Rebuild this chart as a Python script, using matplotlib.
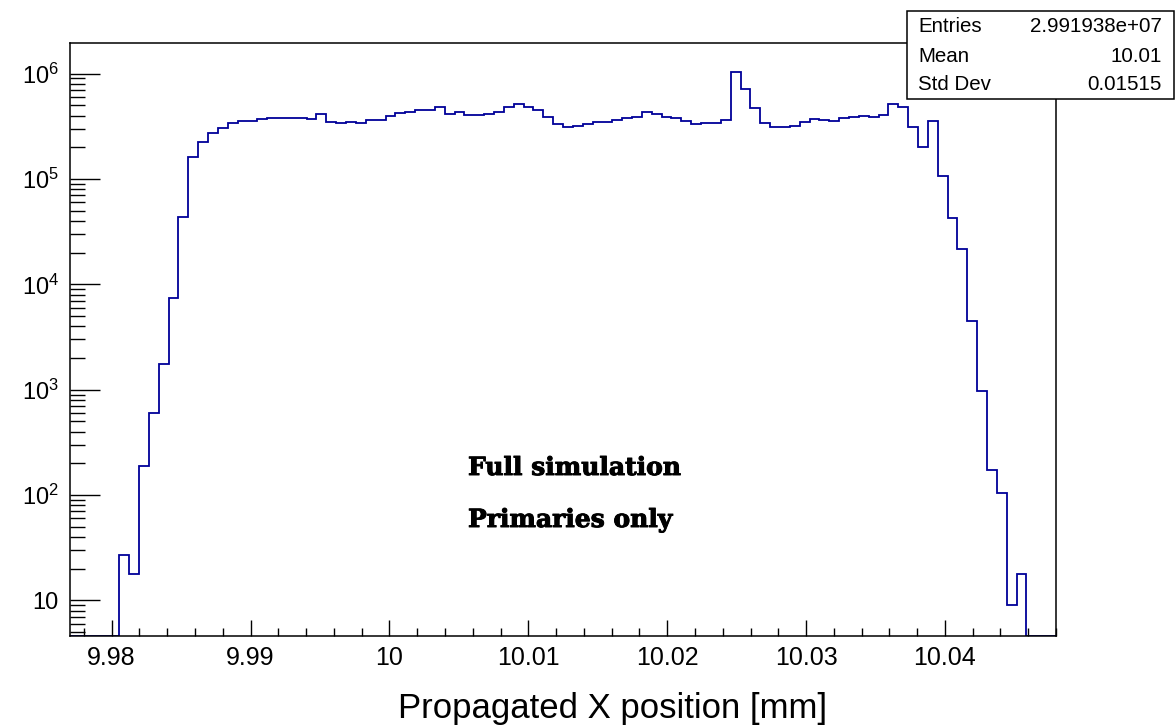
import numpy as np
import matplotlib
matplotlib.use("Agg")
import matplotlib.pyplot as plt
import matplotlib.patheffects as pe
from matplotlib.ticker import FixedLocator, LogLocator, NullFormatter

plt.rcParams['font.family'] = ['Liberation Sans', 'DejaVu Sans']
plt.rcParams['mathtext.fontset'] = 'custom'
plt.rcParams['mathtext.rm'] = 'Liberation Sans'
plt.rcParams['mathtext.it'] = 'Liberation Sans'

# histogram: 100 bins, counts
x_low, x_high, n_bins = 9.977, 10.048, 100
counts = [
    0, 0, 0, 0, 0, 27, 18, 188, 604, 1740,
    7370, 43900, 1.62e5, 2.23e5, 2.72e5, 3.07e5, 3.42e5, 3.55e5, 3.57e5, 3.71e5,
    3.82e5, 3.82e5, 3.82e5, 3.82e5, 3.71e5, 4.14e5, 3.50e5, 3.42e5, 3.50e5, 3.42e5,
    3.61e5, 3.66e5, 3.94e5, 4.21e5, 4.30e5, 4.52e5, 4.55e5, 4.83e5, 4.14e5, 4.32e5,
    4.03e5, 4.05e5, 4.17e5, 4.30e5, 4.86e5, 5.12e5, 4.86e5, 4.52e5, 3.88e5, 3.31e5,
    3.10e5, 3.21e5, 3.35e5, 3.45e5, 3.50e5, 3.61e5, 3.77e5, 3.90e5, 4.32e5, 4.17e5,
    3.88e5, 3.77e5, 3.53e5, 3.35e5, 3.38e5, 3.38e5, 3.63e5, 1.03e6, 7.11e5, 4.75e5,
    3.42e5, 3.14e5, 3.12e5, 3.17e5, 3.48e5, 3.71e5, 3.63e5, 3.55e5, 3.77e5, 3.90e5,
    3.99e5, 3.88e5, 4.03e5, 5.16e5, 4.80e5, 3.10e5, 2.00e5, 3.58e5, 1.06e5, 42900,
    21800, 4480, 964, 172, 104, 9, 18, 0, 0, 0,
]

x_ticks = [9.98, 9.99, 10.0, 10.01, 10.02, 10.03, 10.04]
x_tick_labels = ["9.98", "9.99", "10", "10.01", "10.02", "10.03", "10.04"]
y_ticks = [10, 1e2, 1e3, 1e4, 1e5, 1e6]
y_tick_labels = ["10", "$10^{2}$", "$10^{3}$", "$10^{4}$", "$10^{5}$", "$10^{6}$"]

stat_names = ["Entries", "Mean", "Std Dev"]
stat_values = ["2.991938e+07", "10.01", "0.01515"]

y_low, y_high = 4.6, 1.95e6

fig = plt.figure(figsize=(11.76, 7.28), dpi=100)
ax = fig.add_axes([0.0595, 0.1264, 0.8385, 0.8145])

edges = np.linspace(x_low, x_high, n_bins + 1)
# empty bins sit on the bottom of the frame, like ROOT draws them
ax.stairs(np.clip(counts, y_low, None), edges, color="#000099", lw=1.3, baseline=None)

ax.set_yscale("log")
ax.set_xlim(x_low, x_high)
ax.set_ylim(y_low, y_high)

ax.xaxis.set_major_locator(FixedLocator(x_ticks))
ax.xaxis.set_minor_locator(FixedLocator(np.arange(9.978, 10.048, 0.002)))
ax.set_xticklabels(x_tick_labels, fontsize=18)
ax.yaxis.set_major_locator(FixedLocator(y_ticks))
ax.yaxis.set_minor_locator(LogLocator(base=10, subs=np.arange(2, 10)))
ax.yaxis.set_minor_formatter(NullFormatter())
ax.set_yticklabels(y_tick_labels, fontsize=17)

ax.tick_params(axis="x", which="major", direction="in", length=11.5, width=1.0, pad=7)
ax.tick_params(axis="x", which="minor", direction="in", length=5.8, width=1.0)
ax.tick_params(axis="y", which="major", direction="in", length=21.6, width=1.0, pad=8)
ax.tick_params(axis="y", which="minor", direction="in", length=10.8, width=1.0)
for s in ax.spines.values():
    s.set_linewidth(1.1)

fig.text(0.521, 0.027, "Propagated X position [mm]", fontsize=25, ha="center", va="center")

# annotations
heavy = [pe.withStroke(linewidth=0.7, foreground="black")]
ax.text(468 / 1176, 1 - 475 / 728, "Full simulation", transform=fig.transFigure,
        fontsize=18, fontweight="bold", family="DejaVu Serif", ha="left", va="baseline",
        path_effects=heavy)
ax.text(468 / 1176, 1 - 527 / 728, "Primaries only", transform=fig.transFigure,
        fontsize=18, fontweight="bold", family="DejaVu Serif", ha="left", va="baseline",
        path_effects=heavy)

# stats box
box = plt.Rectangle((0.7713, 0.864), 0.227, 0.121, transform=fig.transFigure,
                    facecolor="white", edgecolor="black", lw=1.1, zorder=5)
fig.patches.append(box)
row_y = [1 - 27 / 728, 1 - 56 / 728, 1 - 85 / 728]
for name, val, yy in zip(stat_names, stat_values, row_y):
    fig.text(918 / 1176, yy, name, fontsize=14.8, ha="left", va="center", zorder=6)
    fig.text(1162 / 1176, yy, val, fontsize=14.8, ha="right", va="center", zorder=6)

fig.savefig("out.png", dpi=100)
